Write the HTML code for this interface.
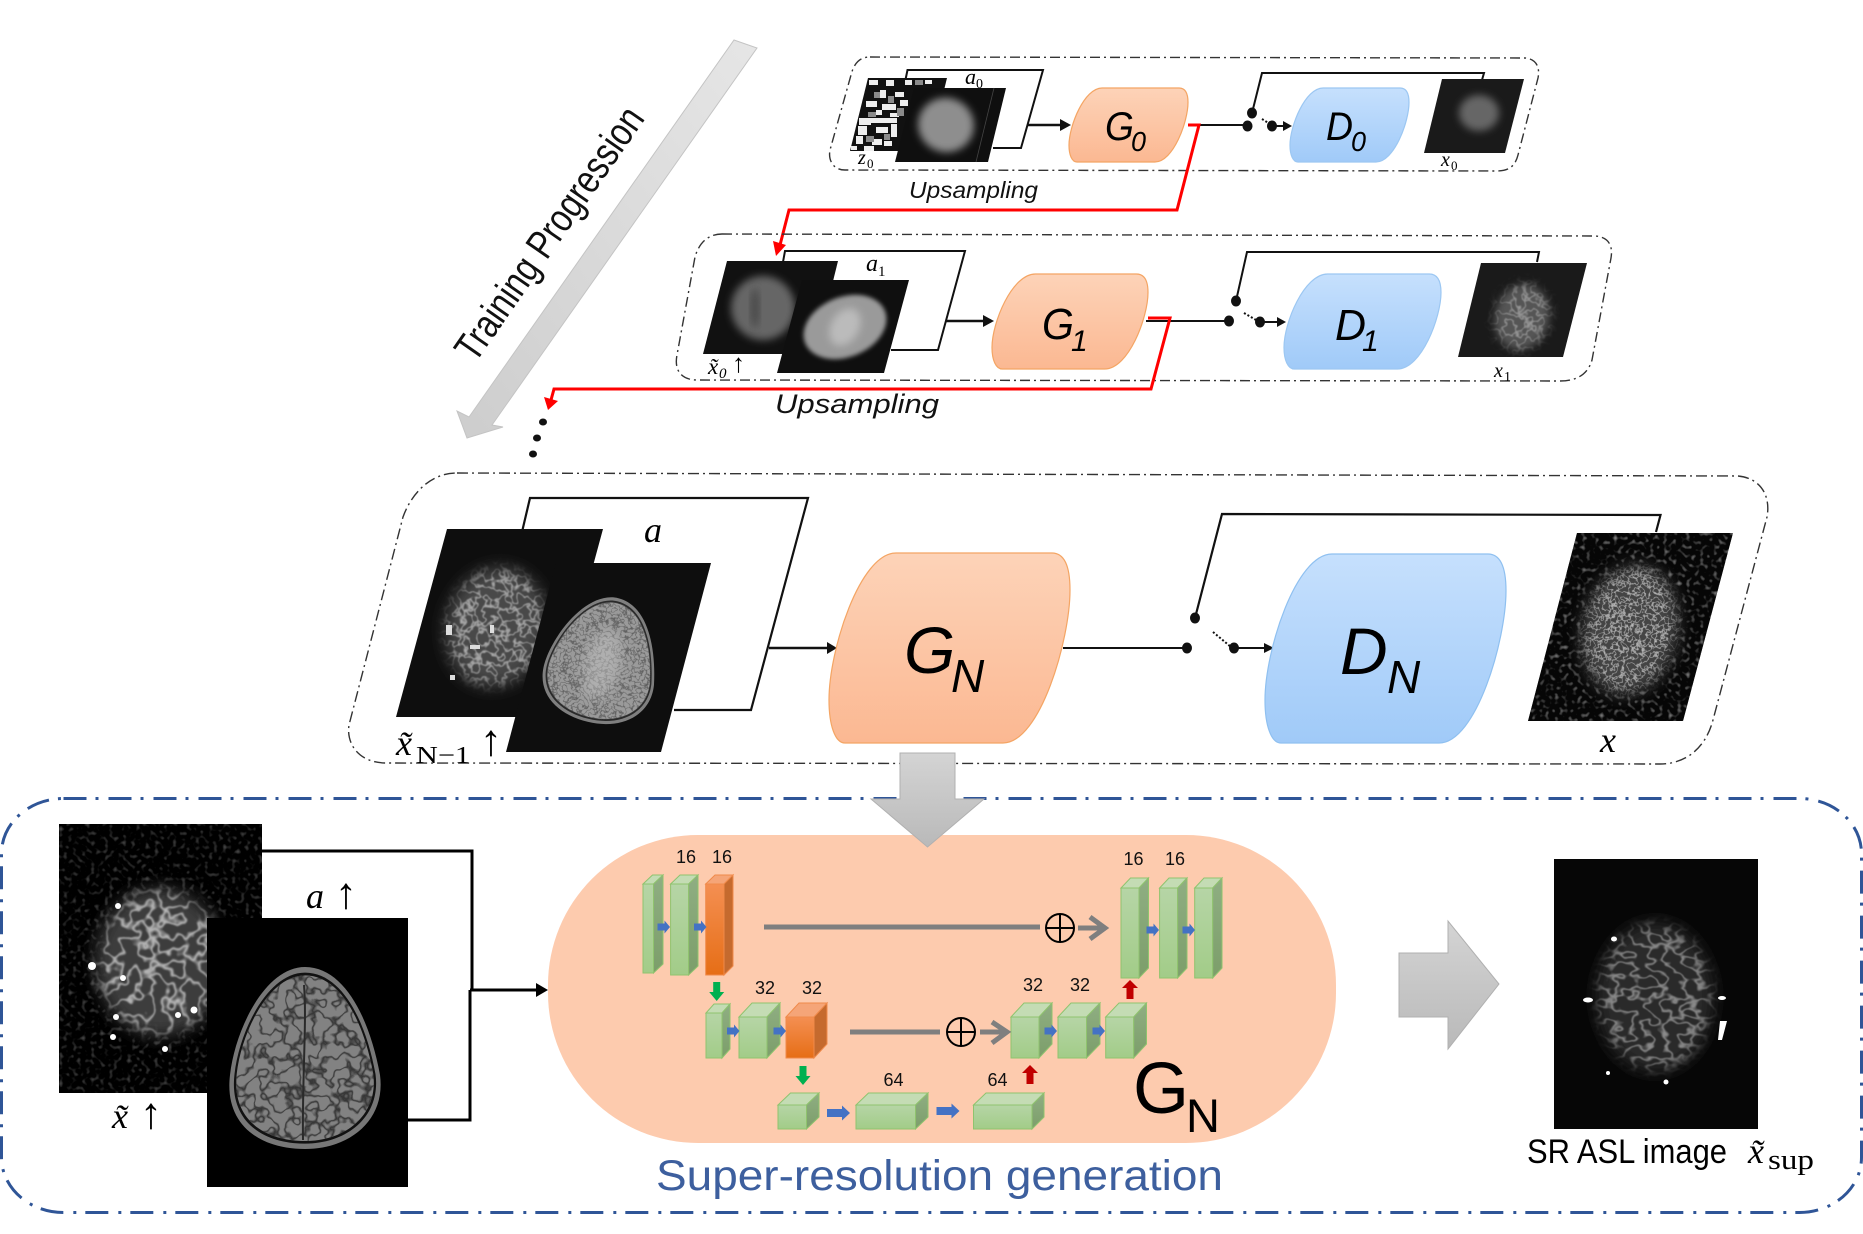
<!DOCTYPE html>
<html><head><meta charset="utf-8"><title>Training progression diagram</title>
<style>html,body{margin:0;padding:0;background:#fff}svg{display:block}
.sans{font-family:"Liberation Sans",sans-serif}
.serif{font-family:"Liberation Serif","DejaVu Serif",serif;font-style:italic}
.num{font-family:"Liberation Sans",sans-serif;font-size:18px;text-anchor:middle;fill:#111}
</style></head><body>
<svg xmlns="http://www.w3.org/2000/svg" width="1863" height="1234" viewBox="0 0 1863 1234">
<defs>
<linearGradient id="og" x1="0" y1="0" x2="0" y2="1"><stop offset="0" stop-color="#fdd3b8"/><stop offset="1" stop-color="#fbb892"/></linearGradient>
<linearGradient id="bg" x1="0" y1="0" x2="0" y2="1"><stop offset="0" stop-color="#c6e0fd"/><stop offset="1" stop-color="#a0caf8"/></linearGradient>
<linearGradient id="gr" x1="0" y1="0" x2="0" y2="1"><stop offset="0" stop-color="#d4d4d4"/><stop offset="1" stop-color="#b9b9b9"/></linearGradient>
<linearGradient id="gt" x1="1" y1="0" x2="0" y2="1"><stop offset="0" stop-color="#e6e6e6"/><stop offset="1" stop-color="#cdcdcd"/></linearGradient>
<linearGradient id="gf" x1="0" y1="0" x2="0" y2="1"><stop offset="0" stop-color="#b6d5a6"/><stop offset="1" stop-color="#a2cc88"/></linearGradient>
<linearGradient id="gs" x1="0" y1="0" x2="0" y2="1"><stop offset="0" stop-color="#8fae82"/><stop offset="1" stop-color="#7c9e6a"/></linearGradient>
<linearGradient id="of" x1="0" y1="0" x2="0" y2="1"><stop offset="0" stop-color="#f48f52"/><stop offset="1" stop-color="#e66e16"/></linearGradient>
<symbol id="shape" viewBox="0 0 241 190" preserveAspectRatio="none" overflow="visible">
<path d="M67,0 L223,0 C235,0 241,12 241,37 C241,87 211,190 174,190 L16,190 C6,190 0,172 0,147 C0,97 31,0 67,0 Z" vector-effect="non-scaling-stroke"/>
</symbol>
<filter id="b2" x="-30%" y="-30%" width="160%" height="160%"><feGaussianBlur stdDeviation="2"/></filter>
<filter id="b4" x="-30%" y="-30%" width="160%" height="160%"><feGaussianBlur stdDeviation="4"/></filter>
<filter id="b8" x="-40%" y="-40%" width="180%" height="180%"><feGaussianBlur stdDeviation="8"/></filter>
<!-- network-like speckle: a band of the noise shown as light lines, masked by blurred source -->
<filter id="netA" x="-20%" y="-20%" width="140%" height="140%" color-interpolation-filters="sRGB">
<feTurbulence type="fractalNoise" baseFrequency="0.065" numOctaves="2" seed="4"/>
<feColorMatrix values="0 0 0 0 1  0 0 0 0 1  0 0 0 0 1  1 0 0 0 0"/>
<feComponentTransfer><feFuncA type="table" tableValues="0 0 0 0 0 0 .9 0 0 0 0 0 0"/></feComponentTransfer>
<feGaussianBlur stdDeviation=".7" result="n"/>
<feGaussianBlur in="SourceAlpha" stdDeviation="7" result="m"/>
<feComposite in="n" in2="m" operator="in"/></filter>
<filter id="netB" x="-20%" y="-20%" width="140%" height="140%" color-interpolation-filters="sRGB">
<feTurbulence type="fractalNoise" baseFrequency="0.11" numOctaves="2" seed="9"/>
<feColorMatrix values="0 0 0 0 1  0 0 0 0 1  0 0 0 0 1  1 0 0 0 0"/>
<feComponentTransfer><feFuncA type="table" tableValues="0 0 0 0 0 0 .9 0 0 0 0 0 0"/></feComponentTransfer>
<feGaussianBlur stdDeviation=".5" result="n"/>
<feGaussianBlur in="SourceAlpha" stdDeviation="6" result="m"/>
<feComposite in="n" in2="m" operator="in"/></filter>
<filter id="netC" x="-20%" y="-20%" width="140%" height="140%" color-interpolation-filters="sRGB">
<feTurbulence type="fractalNoise" baseFrequency="0.19" numOctaves="2" seed="15"/>
<feColorMatrix values="0 0 0 0 1  0 0 0 0 1  0 0 0 0 1  1 0 0 0 0"/>
<feComponentTransfer><feFuncA type="table" tableValues="0 0 0 0 0 0 .9 0 0 0 0 0 0"/></feComponentTransfer>
<feGaussianBlur stdDeviation=".35" result="n"/>
<feGaussianBlur in="SourceAlpha" stdDeviation="6" result="m"/>
<feComposite in="n" in2="m" operator="in"/></filter>
<filter id="netS" x="-20%" y="-20%" width="140%" height="140%" color-interpolation-filters="sRGB">
<feTurbulence type="fractalNoise" baseFrequency="0.06 0.085" numOctaves="2" seed="21"/>
<feColorMatrix values="0 0 0 0 1  0 0 0 0 1  0 0 0 0 1  1 0 0 0 0"/>
<feComponentTransfer><feFuncA type="table" tableValues="0 0 0 0 0 0 .85 0 0 0 0 0 0"/></feComponentTransfer>
<feGaussianBlur stdDeviation=".6" result="n"/>
<feGaussianBlur in="SourceAlpha" stdDeviation="6" result="m"/>
<feComposite in="n" in2="m" operator="in"/></filter>
<filter id="bgn" x="0" y="0" width="100%" height="100%" color-interpolation-filters="sRGB">
<feTurbulence type="fractalNoise" baseFrequency="0.22" numOctaves="1" seed="3"/>
<feColorMatrix values="3 0 0 0 -1.6  3 0 0 0 -1.6  3 0 0 0 -1.6  0 0 0 0 1"/>
<feComposite in2="SourceAlpha" operator="in"/></filter>
<filter id="sul" x="0" y="0" width="100%" height="100%" color-interpolation-filters="sRGB">
<feTurbulence type="fractalNoise" baseFrequency="0.07" numOctaves="2" seed="12"/>
<feColorMatrix values="0 0 0 0 .13  0 0 0 0 .13  0 0 0 0 .13  1 0 0 0 0"/>
<feComponentTransfer result="l"><feFuncA type="table" tableValues="0 0 0 0 0 0 .8 0 0 0 0 0 0"/></feComponentTransfer>
<feComposite in="l" in2="SourceAlpha" operator="in" result="c"/>
<feMerge><feMergeNode in="SourceGraphic"/><feMergeNode in="c"/></feMerge></filter>
<filter id="sul2" x="0" y="0" width="100%" height="100%" color-interpolation-filters="sRGB">
<feTurbulence type="fractalNoise" baseFrequency="0.14" numOctaves="2" seed="7"/>
<feColorMatrix values="0 0 0 0 .25  0 0 0 0 .25  0 0 0 0 .25  1 0 0 0 0"/>
<feComponentTransfer result="l"><feFuncA type="table" tableValues="0 0 0 0 0 0 .7 0 0 0 0 0 0"/></feComponentTransfer>
<feComposite in="l" in2="SourceAlpha" operator="in" result="c"/>
<feMerge><feMergeNode in="SourceGraphic"/><feMergeNode in="c"/></feMerge></filter>
<path id="egg" d="M305,967 C345,967 370,1020 380,1075 C386,1120 350,1149 305,1149 C260,1149 224,1125 230,1075 C235,1030 265,967 305,967 Z"/>
<polygon id="sa" points="0,-3.5 7,-3.5 7,-6.5 12.5,0 7,6.5 7,3.5 0,3.5" fill="#4472c4"/>
<polygon id="ba" points="0,-4 15,-4 15,-7.5 23,0 15,7.5 15,4 0,4" fill="#4472c4"/>
<polygon id="da" points="-3.5,0 3.5,0 3.5,10 7.5,10 0,19 -7.5,10 -3.5,10" fill="#00b050"/>
<polygon id="ua" points="-3.5,19 3.5,19 3.5,8 8,8 0,0 -8,8 -3.5,8" fill="#c00000"/>
<g id="oplus" fill="none" stroke="#000" stroke-width="2"><circle r="14"/><path d="M-14,0H14M0,-14V14"/></g>
</defs>

<!-- Training progression arrow -->
<polygon points="734,40 757,48 492,425 503,427 467,438 457,411 469,417" fill="url(#gt)" stroke="#c4c4c4" stroke-width="1"/>
<text class="sans" transform="translate(475 364) rotate(-55.2)" font-size="40" fill="#111" textLength="299" lengthAdjust="spacingAndGlyphs">Training Progression</text>

<!-- Row 0 -->
<path d="M870,57 L1525,58 C1537,59 1540,68 1538,78 L1518,155 C1515,167 1508,171 1497,171 L845,170 C833,170 828,160 830,150 L851,75 C854,63 860,57 870,57 Z" fill="none" stroke="#333" stroke-width="1.4" stroke-dasharray="10 4 2 4"/>
<path d="M905,82 L907.5,70 H1043 L1021,148 H993" fill="none" stroke="#111" stroke-width="2"/>
<polygon points="868,78 947,78 929,151 850,151" fill="#111"/>
<g fill="#eee">
<rect x="869" y="80" width="9" height="5"/><rect x="886" y="80" width="8" height="6"/><rect x="905" y="80" width="7" height="5"/><rect x="925" y="80" width="7" height="4"/>
<rect x="880" y="90" width="6" height="8"/><rect x="895" y="92" width="9" height="5"/><rect x="866" y="101" width="11" height="6"/><rect x="882" y="104" width="14" height="6"/>
<rect x="900" y="100" width="8" height="6"/><rect x="876" y="110" width="6" height="5"/><rect x="890" y="113" width="9" height="4"/><rect x="859" y="118" width="12" height="7"/>
<rect x="871" y="118" width="26" height="5"/><rect x="858" y="126" width="9" height="9"/><rect x="876" y="127" width="12" height="6"/><rect x="891" y="124" width="6" height="13"/>
<rect x="856" y="136" width="7" height="8"/><rect x="872" y="139" width="10" height="6"/><rect x="884" y="141" width="8" height="5"/><rect x="851" y="146" width="6" height="4"/><rect x="864" y="146" width="10" height="5"/>
</g>
<g fill="#8a8a8a"><rect x="874" y="92" width="6" height="6"/><rect x="888" y="96" width="6" height="7"/><rect x="868" y="112" width="8" height="5"/><rect x="897" y="108" width="7" height="8"/><rect x="866" y="136" width="8" height="6"/><rect x="884" y="134" width="6" height="6"/><rect x="915" y="80" width="8" height="5"/></g>
<polygon points="914,88 1006,88 988,162 895,162" fill="#0f0f0f"/>
<line x1="994" y1="88" x2="976" y2="162" stroke="#444" stroke-width=".8"/>
<ellipse cx="946" cy="125" rx="28" ry="27" transform="rotate(20 946 125)" fill="#8e8e8e" filter="url(#b4)"/>
<text class="serif" x="965" y="84" font-size="22">a</text><text class="serif" x="976" y="88" font-size="14" style="font-style:normal">0</text>
<text class="serif" x="858" y="164" font-size="20">z</text><text class="serif" x="867" y="168" font-size="13" style="font-style:normal">0</text>
<path d="M1027,125 H1062" stroke="#111" stroke-width="2.4" fill="none"/><polygon points="1060,119 1071,125 1060,131" fill="#111"/>
<use href="#shape" x="1069" y="88" width="119" height="74" fill="url(#og)" stroke="#f4a564" stroke-width="1.2"/>
<text class="sans" font-style="italic" x="1105" y="140" font-size="40" fill="#000" textLength="29" lengthAdjust="spacingAndGlyphs">G</text><text class="sans" font-style="italic" x="1131" y="151" font-size="28" fill="#000" textLength="15" lengthAdjust="spacingAndGlyphs">0</text>
<path d="M1188,125 H1247" stroke="#111" stroke-width="2"/>
<ellipse cx="1247.5" cy="126" rx="5" ry="5.5" fill="#111"/><ellipse cx="1252" cy="113" rx="5" ry="5.5" fill="#111"/><ellipse cx="1272" cy="126" rx="5" ry="5.5" fill="#111"/>
<path d="M1262,119 L1270,124" stroke="#111" stroke-width="2" stroke-dasharray="2 2"/>
<path d="M1272,126 H1285" stroke="#111" stroke-width="2"/><polygon points="1283,121 1292,126 1283,131" fill="#111"/>
<path d="M1252,113 L1262,73 H1484 L1482,80" fill="none" stroke="#111" stroke-width="2"/>
<use href="#shape" x="1290" y="88" width="119" height="74" fill="url(#bg)" stroke="#9cc7f2" stroke-width="1.2"/>
<text class="sans" font-style="italic" x="1326" y="140" font-size="40" fill="#000" textLength="27" lengthAdjust="spacingAndGlyphs">D</text><text class="sans" font-style="italic" x="1351" y="151" font-size="28" fill="#000" textLength="15" lengthAdjust="spacingAndGlyphs">0</text>
<polygon points="1442,79 1524,79 1505,153 1424,153" fill="#1a1a1a"/>
<ellipse cx="1479" cy="113" rx="20" ry="18" fill="#666" filter="url(#b4)"/>
<text class="serif" x="1441" y="166" font-size="20">x</text><text class="serif" x="1451" y="170" font-size="13" style="font-style:normal">0</text>
<text class="sans" font-style="italic" x="909" y="198" font-size="23" fill="#111" textLength="129" lengthAdjust="spacingAndGlyphs">Upsampling</text>
<path d="M1188,125 H1199 L1177,210 H789 L780,245" fill="none" stroke="#f00" stroke-width="3"/>
<polygon points="773,241 786,245 776,256" fill="#f00"/>

<!-- Row 1 -->
<path d="M722,234 L1595,236 C1609,237 1613,246 1611,258 L1592,360 C1588,374 1577,381 1560,381 L697,380 C681,380 674,370 677,355 L695,257 C699,243 708,234 722,234 Z" fill="none" stroke="#333" stroke-width="1.4" stroke-dasharray="10 4 2 4"/>
<path d="M783,262 L785,251 H965 L938,350 H891" fill="none" stroke="#111" stroke-width="2"/>
<polygon points="727,261 838,261 815,354 703,354" fill="#111"/>
<ellipse cx="763" cy="308" rx="32" ry="32" transform="rotate(10 763 308)" fill="#666" filter="url(#b4)"/>
<ellipse cx="755" cy="308" rx="4" ry="20" fill="#474747" filter="url(#b4)"/>
<polygon points="802,280 909,280 884,373 777,373" fill="#0f0f0f"/>
<ellipse cx="845" cy="327" rx="43" ry="30" transform="rotate(-22 845 327)" fill="#9a9a9a" filter="url(#b2)"/>
<ellipse cx="845" cy="327" rx="20" ry="14" transform="rotate(-60 845 327)" fill="#bbb" filter="url(#b4)"/>
<text class="serif" x="866" y="271" font-size="24">a</text><text class="serif" x="878" y="276" font-size="15" style="font-style:normal">1</text>
<text class="serif" x="708" y="374" font-size="23">x&#771;</text><text class="serif" x="719" y="378" font-size="15">0</text><text class="serif" x="732" y="372" font-size="26" style="font-style:normal">↑</text>
<path d="M946,321 H985" stroke="#111" stroke-width="2.4"/><polygon points="983,315 994,321 983,327" fill="#111"/>
<use href="#shape" x="992" y="274" width="156" height="95" fill="url(#og)" stroke="#f4a564" stroke-width="1.2"/>
<text class="sans" font-style="italic" x="1042" y="339" font-size="44" fill="#000" textLength="32" lengthAdjust="spacingAndGlyphs">G</text><text class="sans" font-style="italic" x="1071" y="351" font-size="30" fill="#000">1</text>
<path d="M1146,321 H1229" stroke="#111" stroke-width="2"/>
<ellipse cx="1229" cy="321" rx="5" ry="5.5" fill="#111"/><ellipse cx="1236" cy="301" rx="5" ry="5.5" fill="#111"/><ellipse cx="1260" cy="322" rx="5" ry="5.5" fill="#111"/>
<path d="M1244,313 L1256,320" stroke="#111" stroke-width="2" stroke-dasharray="2 2"/>
<path d="M1260,322 H1279" stroke="#111" stroke-width="2"/><polygon points="1277,317 1286,322 1277,327" fill="#111"/>
<path d="M1236,301 L1247,252 H1539 L1537,262" fill="none" stroke="#111" stroke-width="2"/>
<use href="#shape" x="1284" y="274" width="157" height="95" fill="url(#bg)" stroke="#9cc7f2" stroke-width="1.2"/>
<text class="sans" font-style="italic" x="1335" y="340" font-size="44" fill="#000" textLength="31" lengthAdjust="spacingAndGlyphs">D</text><text class="sans" font-style="italic" x="1362" y="351" font-size="30" fill="#000">1</text>
<polygon points="1481,263 1587,263 1563,357 1458,357" fill="#1a1a1a"/>
<ellipse cx="1522" cy="317" rx="27" ry="33" transform="rotate(15 1522 317)" fill="#555" filter="url(#b4)"/>
<ellipse cx="1522" cy="317" rx="27" ry="33" transform="rotate(15 1522 317)" fill="#fff" filter="url(#netB)" opacity=".45"/>
<text class="serif" x="1494" y="377" font-size="20">x</text><text class="serif" x="1504" y="381" font-size="14" style="font-style:normal">1</text>
<text class="sans" font-style="italic" x="775" y="413" font-size="27" fill="#111" textLength="164" lengthAdjust="spacingAndGlyphs">Upsampling</text>
<path d="M1148,318 H1170 L1151,389 H554 L551,400" fill="none" stroke="#f00" stroke-width="3"/>
<polygon points="544,397 558,401 548,410" fill="#f00"/>
<g fill="#111"><ellipse cx="543" cy="422" rx="4" ry="3.5"/><ellipse cx="537" cy="438" rx="4" ry="3.5"/><ellipse cx="533" cy="454" rx="4" ry="3.5"/></g>

<!-- Row 2 -->
<path d="M457,473 L1738,476 C1760,478 1771,495 1767,517 L1713,720 C1705,750 1684,764 1660,764 L386,763 C360,763 346,745 349,725 L403,517 C410,497 428,473 457,473 Z" fill="none" stroke="#333" stroke-width="1.4" stroke-dasharray="11 4 2 4"/>
<path d="M522,532 L530,498 H808 L751,710 H674" fill="none" stroke="#111" stroke-width="2.2"/>
<polygon points="447,529 603,529 552,717 396,717" fill="#0e0e0e"/>
<ellipse cx="496" cy="627" rx="50" ry="60" transform="rotate(14 496 627)" fill="#4a4a4a" filter="url(#b8)"/>
<ellipse cx="496" cy="627" rx="48" ry="58" transform="rotate(14 496 627)" fill="#fff" filter="url(#netB)" opacity=".62"/>
<g fill="#ddd"><rect x="446" y="625" width="6" height="10"/><rect x="470" y="645" width="10" height="4"/><rect x="490" y="625" width="4" height="8"/><rect x="450" y="675" width="5" height="5"/></g>
<polygon points="556,563 711,563 661,752 506,752" fill="#0e0e0e"/>
<g transform="translate(603 660) rotate(14) scale(.74 .7) translate(-305 -1058)">
<use href="#egg" fill="#7f7f7f"/>
<use href="#egg" transform="translate(305 1060) scale(.95) translate(-305 -1060)" fill="#2a2a2a"/>
<use href="#egg" transform="translate(305 1060) scale(.92) translate(-305 -1060)" fill="#9a9a9a" filter="url(#sul2)"/>
<ellipse cx="305" cy="1065" rx="24" ry="50" fill="#c4c4c4" opacity=".5" filter="url(#b8)"/>
</g>
<text class="serif" x="644" y="542" font-size="36" fill="#000">a</text>
<text class="serif" x="396" y="755" font-size="36" fill="#000">x&#771;</text><text x="416" y="763" font-family="Liberation Serif,serif" font-size="24" fill="#000" textLength="54" lengthAdjust="spacingAndGlyphs">N−1</text>
<text x="480" y="755" font-family="Liberation Serif,serif" font-size="44" fill="#000">↑</text>
<path d="M769,648 H829" stroke="#111" stroke-width="2.4"/><polygon points="827,642 837,648 827,654" fill="#111"/>
<use href="#shape" x="829" y="553" width="241" height="190" fill="url(#og)" stroke="#f4a564" stroke-width="1.2"/>
<text class="sans" font-style="italic" x="904" y="673" font-size="66" fill="#000">G</text><text class="sans" font-style="italic" x="951" y="692" font-size="46" fill="#000">N</text>
<path d="M1063,648 H1187" stroke="#111" stroke-width="2"/>
<ellipse cx="1187" cy="648" rx="5" ry="5.5" fill="#111"/><ellipse cx="1195" cy="618" rx="5" ry="5.5" fill="#111"/><ellipse cx="1234" cy="648" rx="5" ry="5.5" fill="#111"/>
<path d="M1213,632 L1231,647" stroke="#111" stroke-width="2" stroke-dasharray="2 2"/>
<path d="M1234,648 H1266" stroke="#111" stroke-width="2"/><polygon points="1264,643 1274,648 1264,653" fill="#111"/>
<path d="M1195,618 L1222,514 L1660.5,515 L1656,532" fill="none" stroke="#111" stroke-width="2.2"/>
<use href="#shape" x="1265" y="554" width="241" height="189" fill="url(#bg)" stroke="#8fc0f0" stroke-width="1.2"/>
<text class="sans" font-style="italic" x="1340" y="674" font-size="66" fill="#000">D</text><text class="sans" font-style="italic" x="1387" y="693" font-size="46" fill="#000">N</text>
<polygon points="1577,533 1733,533 1683,721 1528,721" fill="#0e0e0e"/>
<polygon points="1577,533 1733,533 1683,721 1528,721" fill="#fff" filter="url(#bgn)" opacity=".5"/>
<ellipse cx="1630" cy="630" rx="47" ry="65" transform="rotate(12 1630 630)" fill="#444" filter="url(#b8)"/>
<ellipse cx="1630" cy="630" rx="45" ry="62" transform="rotate(12 1630 630)" fill="#fff" filter="url(#netC)" opacity=".7"/>
<text class="serif" x="1600" y="752" font-size="36" fill="#000">x</text>

<!-- Super-resolution panel -->
<rect x="1.5" y="798.5" width="1860" height="414" rx="62" ry="55" fill="none" stroke="#2f5597" stroke-width="3" stroke-dasharray="23 9 3 10"/>
<rect x="548" y="835" width="788" height="308" rx="150" ry="150" fill="#fdcbae"/>

<!-- left inputs -->
<path d="M262,851 H472 V990 M408,1120 H470 V990" fill="none" stroke="#000" stroke-width="3"/>
<path d="M470,990 H538" stroke="#000" stroke-width="3"/><polygon points="536,983 548,990 536,997" fill="#000"/>
<rect x="59" y="824" width="203" height="269" fill="#000"/>
<rect x="59" y="824" width="203" height="269" fill="#fff" filter="url(#bgn)" opacity=".3"/>
<ellipse cx="160" cy="962" rx="64" ry="74" fill="#3e3e3e" filter="url(#b8)"/>
<ellipse cx="160" cy="962" rx="62" ry="72" fill="#fff" filter="url(#netA)" opacity=".72"/>
<g fill="#fff"><circle cx="92" cy="966" r="4"/><circle cx="113" cy="1037" r="3"/><circle cx="118" cy="906" r="3"/><circle cx="165" cy="1049" r="3"/><circle cx="194" cy="1010" r="3.5"/><circle cx="123" cy="978" r="3"/><circle cx="178" cy="1015" r="3"/><circle cx="116" cy="1017" r="3"/></g>
<rect x="207" y="918" width="201" height="269" fill="#000"/>
<use href="#egg" fill="#777"/>
<use href="#egg" transform="translate(305 1060) scale(.94) translate(-305 -1060)" fill="#121212"/>
<use href="#egg" transform="translate(305 1060) scale(.91) translate(-305 -1060)" fill="#828282" filter="url(#sul)"/>
<path d="M304,985 C307,1020 302,1080 303,1140" stroke="#2a2a2a" stroke-width="2" fill="none"/>
<text class="serif" x="306" y="908" font-size="36" fill="#000">a</text><text x="335" y="908" font-family="Liberation Serif,serif" font-size="44" fill="#000">↑</text>
<text class="serif" x="112" y="1128" font-size="36" fill="#000">x&#771;</text><text x="140" y="1128" font-family="Liberation Serif,serif" font-size="44" fill="#000">↑</text>

<!-- U-Net blocks -->
<g stroke="#8fc36e" stroke-width="1">
<!-- row 1 left -->
<g fill="url(#gf)"><rect x="643" y="884" width="10.5" height="89"/><rect x="670.6" y="884" width="18" height="91"/></g>
<g fill="#c4dcb4"><polygon points="643,884 652.5,875 663,875 653.5,884"/><polygon points="670.6,884 680,875 698,875 688.6,884"/></g>
<g fill="url(#gs)"><polygon points="653.5,884 663,875 663,964 653.5,973"/><polygon points="688.6,884 698,875 698,966 688.6,975"/></g>
<!-- row 1 right -->
<g fill="url(#gf)"><rect x="1121" y="888" width="18" height="90"/><rect x="1159.6" y="888" width="18" height="90"/><rect x="1194.7" y="888" width="18" height="90"/></g>
<g fill="#c4dcb4"><polygon points="1121,888 1130.5,878 1148.5,878 1139,888"/><polygon points="1159.6,888 1169,878 1187,878 1177.6,888"/><polygon points="1194.7,888 1204,878 1222,878 1212.7,888"/></g>
<g fill="url(#gs)"><polygon points="1139,888 1148.5,878 1148.5,968 1139,978"/><polygon points="1177.6,888 1187,878 1187,968 1177.6,978"/><polygon points="1212.7,888 1222,878 1222,968 1212.7,978"/></g>
<!-- row 2 -->
<g fill="url(#gf)"><rect x="706" y="1013" width="16" height="45"/><rect x="739" y="1017" width="28" height="41"/><rect x="1011" y="1017" width="28" height="41"/><rect x="1058" y="1017" width="28.5" height="41"/><rect x="1105.7" y="1017" width="28" height="41"/></g>
<g fill="#c4dcb4"><polygon points="706,1013 714,1004 730,1004 722,1013"/><polygon points="739,1017 752,1003 780,1003 767,1017"/><polygon points="1011,1017 1024,1003 1052,1003 1039,1017"/><polygon points="1058,1017 1071,1003 1100,1003 1086.5,1017"/><polygon points="1105.7,1017 1119,1003 1146.5,1003 1133.7,1017"/></g>
<g fill="url(#gs)"><polygon points="722,1013 730,1004 730,1049 722,1058"/><polygon points="767,1017 780,1003 780,1044 767,1058"/><polygon points="1039,1017 1052,1003 1052,1044 1039,1058"/><polygon points="1086.5,1017 1100,1003 1100,1044 1086.5,1058"/><polygon points="1133.7,1017 1146.5,1003 1146.5,1044 1133.7,1058"/></g>
<!-- row 3 -->
<g fill="url(#gf)"><rect x="778" y="1105" width="28.5" height="24"/><rect x="856" y="1105" width="59.5" height="24"/><rect x="973.5" y="1105" width="58.5" height="24"/></g>
<g fill="#c4dcb4"><polygon points="778,1105 790.5,1093 819,1093 806.5,1105"/><polygon points="856,1105 868.5,1093 928,1093 915.5,1105"/><polygon points="973.5,1105 986,1093 1044,1093 1032,1105"/></g>
<g fill="url(#gs)"><polygon points="806.5,1105 819,1093 819,1117 806.5,1129"/><polygon points="915.5,1105 928,1093 928,1117 915.5,1129"/><polygon points="1032,1105 1044,1093 1044,1117 1032,1129"/></g>
</g>
<g stroke="#f08a4a" stroke-width="1">
<rect x="705.7" y="884" width="18.3" height="91" fill="url(#of)"/><polygon points="705.7,884 715,875 733,875 724,884" fill="#f5a578"/><polygon points="724,884 733,875 733,966 724,975" fill="#c56a2e"/>
<rect x="786" y="1017" width="28" height="41" fill="url(#of)"/><polygon points="786,1017 799,1003 827,1003 814,1017" fill="#f5a578"/><polygon points="814,1017 827,1003 827,1044 814,1058" fill="#c56a2e"/>
</g>
<!-- arrows -->
<use href="#sa" x="657.5" y="927"/><use href="#sa" x="694" y="927"/><use href="#sa" x="1146.5" y="930"/><use href="#sa" x="1182.5" y="930"/>
<use href="#sa" x="727" y="1031"/><use href="#sa" x="773.5" y="1031"/><use href="#sa" x="1044.5" y="1031"/><use href="#sa" x="1092.5" y="1031"/>
<use href="#ba" x="827" y="1113"/><use href="#ba" x="936.5" y="1111"/>
<use href="#da" x="716.7" y="982"/><use href="#da" x="803" y="1066"/>
<use href="#ua" x="1130" y="980"/><use href="#ua" x="1030" y="1065"/>
<g fill="none" stroke="#7f7f7f" stroke-width="5">
<path d="M764,927 H1040"/><path d="M1078,928 H1103 M1090,917 L1105,928 L1090,939"/>
<path d="M850,1032 H940"/><path d="M980,1032 H1005 M992,1022 L1007,1032 L992,1043"/>
</g>
<use href="#oplus" x="1060" y="928"/><use href="#oplus" x="961" y="1032"/>
<text class="num" x="686" y="863">16</text><text class="num" x="722" y="863">16</text>
<text class="num" x="1133.5" y="865">16</text><text class="num" x="1175" y="865">16</text>
<text class="num" x="765" y="994">32</text><text class="num" x="812" y="994">32</text>
<text class="num" x="1033" y="991">32</text><text class="num" x="1080" y="991">32</text>
<text class="num" x="893.5" y="1086">64</text><text class="num" x="997.5" y="1086">64</text>
<text class="sans" x="1133" y="1113" font-size="72" fill="#000">G</text><text class="sans" x="1186" y="1132" font-size="47" fill="#000">N</text>
<text class="sans" x="656" y="1190" font-size="43" fill="#3d5f9e" textLength="567" lengthAdjust="spacingAndGlyphs">Super-resolution generation</text>

<!-- down arrow -->
<polygon points="900,753 955,753 955,799 984,799 927.5,847 871,799 900,799" fill="url(#gr)" stroke="#b0b0b0" stroke-width="1"/>
<!-- right arrow -->
<polygon points="1399,953 1448,953 1448,921 1499,984 1448,1049 1448,1017 1399,1017" fill="url(#gr)" stroke="#b0b0b0" stroke-width="1"/>
<!-- SR output -->
<rect x="1554" y="859" width="204" height="270" fill="#060606"/>
<ellipse cx="1655" cy="997" rx="58" ry="74" fill="#2c2c2c" filter="url(#b8)"/>
<ellipse cx="1655" cy="997" rx="56" ry="72" fill="#fff" filter="url(#netS)" opacity=".55"/>
<g fill="#fff"><ellipse cx="1614" cy="939" rx="3" ry="2.5"/><ellipse cx="1588" cy="1000" rx="5" ry="2.5"/><ellipse cx="1722" cy="998" rx="4" ry="2"/><path d="M1720,1021 L1727,1021 L1722,1040 L1718,1040 Z"/><circle cx="1608" cy="1073" r="2"/><circle cx="1666" cy="1082" r="2.5"/></g>
<text class="sans" x="1527" y="1163" font-size="34" fill="#000" textLength="200" lengthAdjust="spacingAndGlyphs">SR ASL image</text>
<text class="serif" x="1748" y="1163" font-size="36" fill="#000">x&#771;</text><text x="1768" y="1169" font-family="Liberation Serif,serif" font-size="29" fill="#000" textLength="46" lengthAdjust="spacingAndGlyphs">sup</text>
</svg>
</body></html>
